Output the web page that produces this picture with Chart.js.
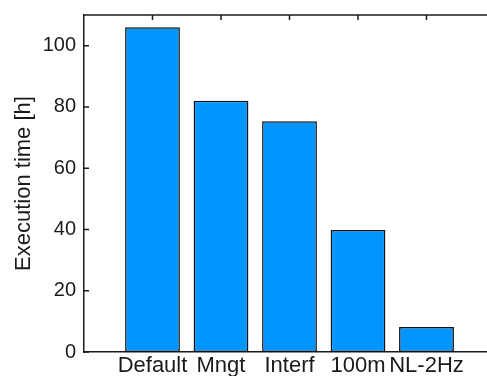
<!DOCTYPE html>
<html>
<head>
<meta charset="utf-8">
<script src="https://cdn.jsdelivr.net/npm/chart.js@4"></script>
<style>
  html, body { margin: 0; padding: 0; background: #fff; overflow: hidden; }
  #wrap { width: 487px; height: 376px; overflow: hidden; position: relative; }
  canvas { display: block; }
</style>
</head>
<body>
<div id="wrap"><canvas id="chart" width="520" height="376"></canvas></div>
<script>
const categories = ['Default', 'Mngt', 'Interf', '100m', 'NL-2Hz'];
const hours = [106, 82, 75.3, 39.8, 8.2];
const yTicks = [0, 20, 40, 60, 80, 100];

const fontFamily = '"Liberation Sans", Arial, Helvetica, sans-serif';

// top edge of the box with the ticks pointing inwards, like matlab does
const frame = {
  id: 'frame',
  afterDraw(chart) {
    const { ctx, chartArea: a, scales } = chart;
    ctx.save();
    ctx.strokeStyle = '#1a1a1a';
    ctx.lineWidth = 1.5;
    ctx.beginPath();
    ctx.moveTo(a.left, a.top);
    ctx.lineTo(a.right, a.top);
    ctx.stroke();
    ctx.beginPath();
    yTicks.forEach((t) => {
      const y = scales.y.getPixelForValue(t);
      ctx.moveTo(a.left, y);
      ctx.lineTo(a.left + 5, y);
    });
    categories.forEach((c, i) => {
      const x = scales.x.getPixelForValue(i + 1);
      ctx.moveTo(x, a.top);
      ctx.lineTo(x, a.top + 5);
    });
    ctx.stroke();
    ctx.restore();
  }
};

const data = {
  datasets: [
    {
      label: 'Execution time',
      data: hours.map((v, i) => ({ x: i + 1, y: v })),
      backgroundColor: '#0095ff',
      borderColor: '#111',
      borderWidth: 1.5,
      borderSkipped: false,
      barPercentage: 0.8,
      categoryPercentage: 1,
    },
  ],
};

const config = {
  type: 'bar',
  data: data,
  plugins: [frame],
  options: {
    responsive: false,
    animation: false,
    layout: { padding: { top: 15, right: 25, left: 0, bottom: 0 } },
    plugins: {
      legend: { display: false },
      tooltip: { enabled: false },
    },
    scales: {
      x: {
        type: 'linear',
        min: 0,
        max: 6,
        offset: false,
        grid: { display: false, drawTicks: false, offset: false },
        border: { display: true, color: '#1a1a1a', width: 1.5 },
        afterBuildTicks: (scale) => {
          scale.ticks = categories.map((c, i) => ({ value: i + 1 }));
        },
        afterFit: (scale) => {
          scale.height = 24;
          scale.paddingLeft = 0;
          scale.paddingRight = 0;
        },
        ticks: {
          autoSkip: false,
          maxRotation: 0,
          padding: 1,
          color: '#1a1a1a',
          font: { family: fontFamily, size: 22 },
          callback: (v) => categories[v - 1] || '',
        },
      },
      y: {
        min: 0,
        max: 110,
        grid: { display: false, drawTicks: false },
        border: { display: true, color: '#1a1a1a', width: 1.5 },
        afterBuildTicks: (scale) => {
          scale.ticks = yTicks.map((t) => ({ value: t }));
        },
        afterFit: (scale) => {
          scale.width = 84;
          scale.paddingTop = 0;
          scale.paddingBottom = 0;
        },
        ticks: {
          padding: 8,
          color: '#1a1a1a',
          font: { family: fontFamily, size: 20 },
        },
        title: {
          display: true,
          text: 'Execution time [h]',
          color: '#1a1a1a',
          padding: { top: 11, bottom: 0 },
          font: { family: fontFamily, size: 22 },
        },
      },
    },
  },
};

const ctx = document.getElementById('chart');
new Chart(ctx, config);
</script>
</body>
</html>
